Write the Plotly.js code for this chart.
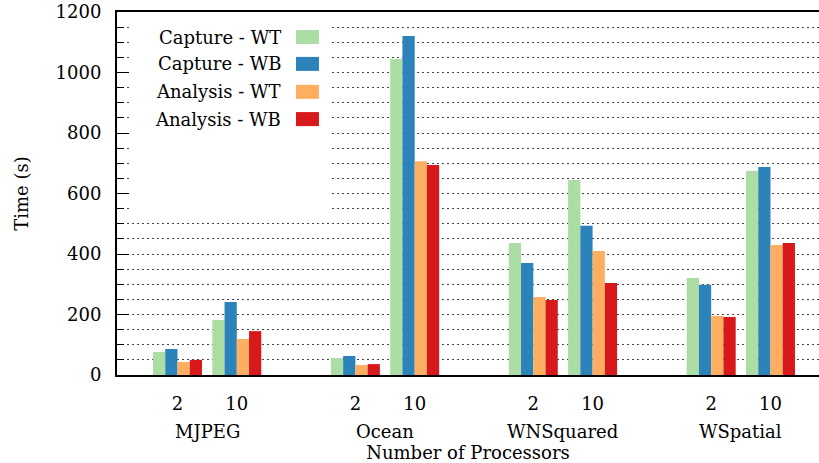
<!DOCTYPE html>
<html>
<head>
<meta charset="utf-8">
<script src="https://cdn.plot.ly/plotly-3.0.1.min.js"></script>
<style>html,body{margin:0;padding:0;background:#fff;}#chart{width:819px;height:463px;}</style>
</head>
<body>
<div id="chart"></div>
<script>
// ---- data ----
var groups = ['MJPEG', 'Ocean', 'WNSquared', 'WSpatial'];
var procs = ['2', '10'];
var seriesNames = ['Capture - WT', 'Capture - WB', 'Analysis - WT', 'Analysis - WB'];
var captureWT  = [76, 182, 56, 1045, 436, 645, 321, 674];
var captureWB  = [86, 241, 63, 1121, 370, 493, 298, 688];
var analysisWT = [43, 119, 33, 707, 258, 410, 195, 430];
var analysisWB = [50, 145, 36, 694, 248, 304, 192, 436];
var colors = ['#abdda4', '#2b83ba', '#fdae61', '#d7191c'];

// ---- positions: two processor counts per group, a gap between groups ----
var xs = [], tickText = [];
groups.forEach(function (g, gi) {
  procs.forEach(function (p, pi) { xs.push(gi * 3 + pi); tickText.push(p); });
});

var FONT = 'DejaVu Serif';
var FS = 18;
var allSeries = [captureWT, captureWB, analysisWT, analysisWB];
var traces = allSeries.map(function (vals, i) {
  return {type: 'bar', x: xs, y: vals, name: seriesNames[i],
          marker: {color: colors[i], line: {width: 0}}, showlegend: false,
          hovertemplate: '%{y}<extra>' + seriesNames[i] + '</extra>'};
});

var annotations = [], shapes = [];
// group labels under the processor ticks
groups.forEach(function (g, gi) {
  annotations.push({text: g, x: gi * 3 + 0.5, xref: 'x', y: 0, yref: 'paper',
    yanchor: 'middle', xanchor: 'center', yshift: -56, showarrow: false,
    font: {family: FONT, size: FS, color: '#000'}});
});
// custom legend (text right-aligned, swatch on the right)
shapes.push({type: 'rect', xref: 'paper', yref: 'paper', x0: 0.0185, x1: 0.3034,
  y0: 0.4408, y1: 0.997, fillcolor: '#fff', line: {width: 0}, layer: 'above'});
var rowY = [0.931, 0.857, 0.780, 0.705];
seriesNames.forEach(function (n, i) {
  annotations.push({text: n, x: 0.2365, xref: 'paper', y: rowY[i], yref: 'paper',
    xanchor: 'right', yanchor: 'middle', showarrow: false,
    font: {family: FONT, size: FS, color: '#000'}});
  shapes.push({type: 'rect', xref: 'paper', yref: 'paper', x0: 0.255, x1: 0.2877,
    y0: rowY[i] - 0.0193, y1: rowY[i] + 0.0193, fillcolor: colors[i],
    line: {width: 0}, layer: 'above'});
});

var gridDash = '2px,3px';
var layout = {
  width: 819, height: 463,
  margin: {l: 117, r: 0, t: 12, b: 88},
  paper_bgcolor: '#fff', plot_bgcolor: '#fff',
  font: {family: FONT, size: FS, color: '#000'},
  barmode: 'group', bargap: 0.174, bargroupgap: 0,
  showlegend: false,
  xaxis: {
    range: [-1.02, 10.818], tickmode: 'array', tickvals: xs, ticktext: tickText,
    showgrid: false, zeroline: false, ticks: '', showline: true, linecolor: '#000',
    linewidth: 2, mirror: true, ticklabelstandoff: 11,
    tickfont: {family: FONT, size: FS, color: '#000'},
    title: {text: 'Number of Processors', standoff: 35, font: {family: FONT, size: FS, color: '#000'}},
    automargin: false
  },
  yaxis: {
    range: [0, 1200], dtick: 200, tick0: 0, ticks: 'inside', ticklen: 12, tickwidth: 1,
    tickcolor: '#000', showline: true, linecolor: '#000', linewidth: 2,
    showgrid: true, gridcolor: '#444', gridwidth: 1, griddash: gridDash,
    zeroline: false, ticklabelstandoff: 10,
    minor: {dtick: 50, ticks: 'inside', ticklen: 7, tickcolor: '#000', showgrid: true,
            gridcolor: '#444', gridwidth: 1, griddash: gridDash},
    tickfont: {family: FONT, size: FS, color: '#000'},
    title: {text: 'Time (s)', standoff: 22, font: {family: FONT, size: FS, color: '#000'}},
    automargin: false
  },
  annotations: annotations,
  shapes: shapes
};

Plotly.newPlot('chart', traces, layout, {displayModeBar: false, staticPlot: true});
</script>
</body>
</html>
